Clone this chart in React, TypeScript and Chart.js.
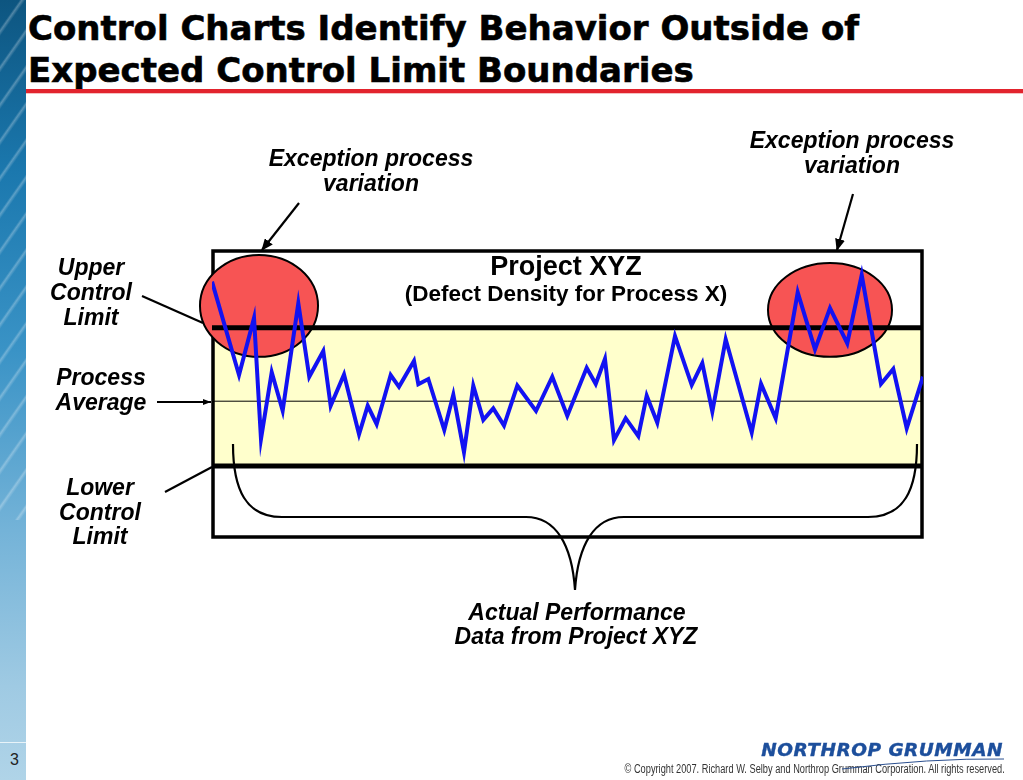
import React, { useEffect, useRef } from "react";
import { Chart, registerables } from "chart.js";

Chart.register(...registerables);

// ---- data ----
const sampleX = [
  0, 3.8, 5.91, 6.89, 8.4, 9.94, 12.14, 13.68, 15.65, 16.69, 18.57, 20.68, 21.9, 23.16, 25.13,
  26.3, 28.41, 29.02, 30.42, 32.67, 33.94, 35.44, 36.75, 38.16, 39.56, 41.07, 42.94, 45.57, 47.86,
  49.97, 52.7, 53.97, 55.27, 56.54, 58.18, 59.96, 61.14, 62.63, 65.12, 67.47, 68.96, 70.37, 72.25,
  75.91, 77.22, 79.28, 82.38, 84.81, 86.92, 89.35, 91.38, 94.09, 95.82, 97.71, 100,
];
const defectDensity = [
  8.9, 5.66, 7.64, 3.44, 5.76, 4.42, 8.15, 5.6, 6.49, 4.59, 5.68, 3.6, 4.59, 3.95, 5.66, 5.25,
  6.15, 5.34, 5.52, 3.75, 4.97, 2.98, 5.29, 4.1, 4.5, 3.9, 5.29, 4.41, 5.6, 4.24, 5.91, 5.35, 6.22,
  3.4, 4.16, 3.54, 4.94, 4.0, 7.01, 5.31, 6.07, 4.39, 6.9, 3.66, 5.35, 4.16, 8.53, 6.55, 7.98, 6.76,
  9.13, 5.35, 5.87, 3.81, 5.6,
];
const upperControlLimit = 7.3;
const processAverage = 4.75;
const lowerControlLimit = 2.5;
const xRange = [0, 100];
const yRange = [0, 10];

// exception regions (data units): centre x, centre y, radius x, radius y
const exceptionRegions = [
  [6.61, 8.06, 8.3, 1.77],
  [86.92, 7.92, 8.72, 1.63],
];

const LABEL_FONT = "'Liberation Sans', Arial, sans-serif";

function Label(props: {
  x: number;
  y: number;
  text: string;
  size: number;
  italic?: boolean;
  lh?: number;
}) {
  const lh = props.lh ?? props.size * 1.15;
  return (
    <div
      style={{
        position: "absolute",
        left: props.x,
        top: props.y - lh / 2,
        transform: "translateX(-50%)",
        whiteSpace: "nowrap",
        fontFamily: LABEL_FONT,
        fontWeight: "bold",
        fontStyle: props.italic === false ? "normal" : "italic",
        fontSize: props.size,
        lineHeight: lh + "px",
        color: "#000",
      }}
    >
      {props.text}
    </div>
  );
}

const controlPlugin = {
  id: "controlBand",
  beforeDatasetsDraw(chart: any) {
    const { ctx, chartArea, scales } = chart;
    const xs = scales.x;
    const ys = scales.y;
    ctx.save();
    // in-control band
    const yU = ys.getPixelForValue(upperControlLimit);
    const yL = ys.getPixelForValue(lowerControlLimit);
    ctx.fillStyle = "#ffffcc";
    ctx.fillRect(chartArea.left, yU, chartArea.right - chartArea.left, yL - yU);
    // frame
    ctx.strokeStyle = "#000";
    ctx.lineWidth = 3.5;
    ctx.strokeRect(
      chartArea.left + 1,
      chartArea.top + 1,
      chartArea.right - chartArea.left - 2,
      chartArea.bottom - chartArea.top - 2
    );
    // exception ellipses
    exceptionRegions.forEach(([cx, cy, rx, ry]) => {
      const px = xs.getPixelForValue(cx);
      const py = ys.getPixelForValue(cy);
      const prx = Math.abs(xs.getPixelForValue(cx + rx) - px);
      const pry = Math.abs(ys.getPixelForValue(cy + ry) - py);
      ctx.beginPath();
      ctx.ellipse(px, py, prx, pry, 0, 0, Math.PI * 2);
      ctx.fillStyle = "#f75454";
      ctx.fill();
      ctx.lineWidth = 2;
      ctx.strokeStyle = "#000";
      ctx.stroke();
    });
    ctx.restore();
  },
};

function ControlChart() {
  const ref = useRef<HTMLCanvasElement | null>(null);
  useEffect(() => {
    if (!ref.current) return;
    const hLine = (v: number) => [
      { x: xRange[0], y: v },
      { x: xRange[1], y: v },
    ];
    const chart = new Chart(ref.current, {
      type: "line",
      data: {
        datasets: [
          {
            label: "Defect density",
            data: sampleX.map((x, i) => ({ x, y: defectDensity[i] })),
            borderColor: "#1212f2",
            borderWidth: 4,
            pointRadius: 0,
            tension: 0,
            borderJoinStyle: "miter",
          },
          {
            label: "UCL",
            data: hLine(upperControlLimit),
            borderColor: "#000",
            borderWidth: 5,
            pointRadius: 0,
          },
          {
            label: "LCL",
            data: hLine(lowerControlLimit),
            borderColor: "#000",
            borderWidth: 5,
            pointRadius: 0,
          },
          {
            label: "Average",
            data: hLine(processAverage),
            borderColor: "#000",
            borderWidth: 1,
            pointRadius: 0,
          },
        ],
      },
      options: {
        responsive: false,
        animation: false,
        layout: { padding: { left: 212, right: 100, top: 250, bottom: 242 } },
        scales: {
          x: { type: "linear", min: xRange[0], max: xRange[1], display: false },
          y: { type: "linear", min: yRange[0], max: yRange[1], display: false },
        },
        plugins: { legend: { display: false }, tooltip: { enabled: false } },
      },
      plugins: [controlPlugin],
    } as any);
    return () => chart.destroy();
  }, []);
  return (
    <canvas
      ref={ref}
      width={1023}
      height={780}
      style={{ position: "absolute", left: 0, top: 0, width: 1023, height: 780 }}
    />
  );
}

const titleStyle: React.CSSProperties = {
  position: "absolute",
  left: 28,
  fontFamily: "'DejaVu Sans', Verdana, sans-serif",
  fontWeight: "bold",
  fontSize: 34,
  lineHeight: "34px",
  whiteSpace: "nowrap",
  color: "#000",
  WebkitTextStroke: "0.6px #000",
};

export default function App() {
  return (
    <div
      style={{
        position: "absolute",
        left: 0,
        top: 0,
        width: 1023,
        height: 780,
        overflow: "hidden",
        background: "#fff",
      }}
    >
      {/* left decorative panel */}
      <div
        style={{
          position: "absolute",
          left: 0,
          top: 0,
          width: 26,
          height: 780,
          background:
            "linear-gradient(180deg,#0d5580 0%,#1b78ae 22%,#3a93c6 45%,#74b3d8 68%,#9fcae3 88%,#b0d4e8 100%)",
        }}
      />
      <div
        style={{
          position: "absolute",
          left: 0,
          top: 0,
          width: 26,
          height: 520,
          background:
            "repeating-linear-gradient(125deg, rgba(255,255,255,0) 0px, rgba(255,255,255,0) 16px, rgba(255,255,255,0.28) 18px, rgba(255,255,255,0) 21px)",
        }}
      />
      <div style={{ position: "absolute", left: 0, top: 742, width: 26, height: 1, background: "#e8f3f9" }} />
      <div
        style={{
          position: "absolute",
          left: 10,
          top: 750,
          fontFamily: LABEL_FONT,
          fontSize: 16,
          lineHeight: "20px",
          color: "#222",
        }}
      >
        3
      </div>

      {/* title */}
      <div style={{ ...titleStyle, top: 11 }}>Control Charts Identify Behavior Outside of</div>
      <div style={{ ...titleStyle, top: 53 }}>Expected Control Limit Boundaries</div>
      <div style={{ position: "absolute", left: 26, top: 89, width: 997, height: 4, background: "#e2232d" }} />
      <div style={{ position: "absolute", left: 26, top: 93, width: 997, height: 1, background: "#f6c0c0" }} />

      <ControlChart />

      {/* annotation lines */}
      <svg
        width={1023}
        height={780}
        style={{ position: "absolute", left: 0, top: 0, pointerEvents: "none" }}
      >
        <defs>
          <marker id="ahBig" markerUnits="userSpaceOnUse" markerWidth="12" markerHeight="10" refX="11" refY="5" orient="auto">
            <path d="M0,0 L12,5 L0,10 z" fill="#000" />
          </marker>
          <marker id="ahSmall" markerUnits="userSpaceOnUse" markerWidth="8" markerHeight="6" refX="8" refY="3" orient="auto">
            <path d="M0,0 L8,3 L0,6 z" fill="#000" />
          </marker>
        </defs>
        <line x1={299} y1={203} x2={262} y2={250} stroke="#000" strokeWidth={2.2} markerEnd="url(#ahBig)" />
        <line x1={853} y1={194} x2={837} y2={250} stroke="#000" strokeWidth={2.2} markerEnd="url(#ahBig)" />
        <line x1={142} y1={296} x2={203} y2={323} stroke="#000" strokeWidth={2.2} />
        <line x1={157} y1={402} x2={211} y2={402} stroke="#000" strokeWidth={2} markerEnd="url(#ahSmall)" />
        <line x1={165} y1={492} x2={212} y2={467} stroke="#000" strokeWidth={2.2} />
        <path
          d="M 233 444 C 233 490, 246 517, 282 517 L 526 517 C 556 517, 572 545, 575 590 C 578 545, 594 517, 624 517 L 868 517 C 904 517, 917 490, 917 444"
          fill="none"
          stroke="#000"
          strokeWidth={2.2}
        />
      </svg>

      {/* chart title inside the frame */}
      <Label x={566} y={267} text="Project XYZ" size={27} italic={false} />
      <Label x={566} y={294} text="(Defect Density for Process X)" size={22.5} italic={false} />

      {/* annotations */}
      <Label x={371} y={158} text="Exception process" size={23} lh={25} />
      <Label x={371} y={183} text="variation" size={23} lh={25} />
      <Label x={852} y={140} text="Exception process" size={23} lh={25} />
      <Label x={852} y={165} text="variation" size={23} lh={25} />
      <Label x={91} y={267} text="Upper" size={23} lh={25} />
      <Label x={91} y={292} text="Control" size={23} lh={25} />
      <Label x={91} y={317} text="Limit" size={23} lh={25} />
      <Label x={101} y={377} text="Process" size={23} lh={25} />
      <Label x={101} y={402} text="Average" size={23} lh={25} />
      <Label x={100} y={487} text="Lower" size={23} lh={25} />
      <Label x={100} y={512} text="Control" size={23} lh={25} />
      <Label x={100} y={536} text="Limit" size={23} lh={25} />
      <Label x={577} y={612} text="Actual Performance" size={23} lh={25} />
      <Label x={576} y={636} text="Data from Project XYZ" size={23} lh={25} />

      {/* footer */}
      <div
        style={{
          position: "absolute",
          right: 20,
          top: 739,
          fontFamily: "'DejaVu Sans', Verdana, sans-serif",
          fontWeight: "bold",
          fontStyle: "italic",
          fontSize: 18.5,
          lineHeight: "22px",
          color: "#1d4f9c",
          whiteSpace: "nowrap",
          letterSpacing: 0.5,
          WebkitTextStroke: "0.4px #1d4f9c",
        }}
      >
        NORTHROP GRUMMAN
      </div>
      <div
        style={{
          position: "absolute",
          right: 18,
          top: 762,
          fontFamily: "'Liberation Sans', Arial, sans-serif",
          fontSize: 12,
          lineHeight: "15px",
          color: "#333",
          whiteSpace: "nowrap",
          transform: "scaleX(0.77)",
          transformOrigin: "right center",
        }}
      >
        © Copyright 2007. Richard W. Selby and Northrop Grumman Corporation. All rights reserved.
      </div>
      <svg
        width={1023}
        height={780}
        style={{ position: "absolute", left: 0, top: 0, pointerEvents: "none" }}
      >
        <path d="M 842 769 Q 930 758 1004 759" fill="none" stroke="#2a4f8f" strokeWidth={1} />
      </svg>
    </div>
  );
}
